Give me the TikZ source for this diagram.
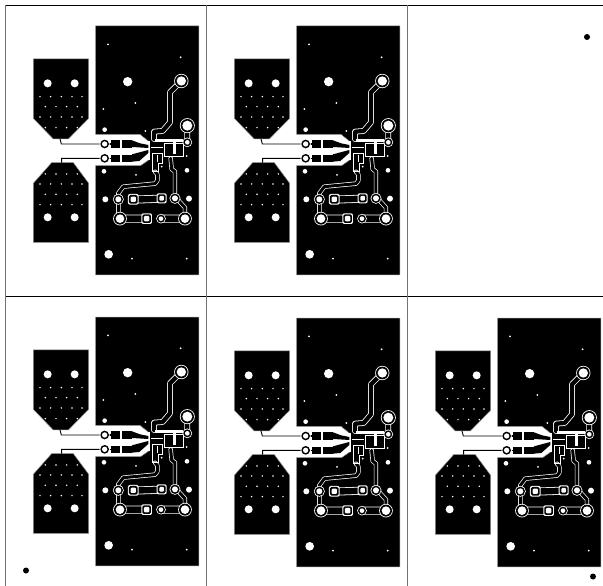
\documentclass[tikz,border=0pt]{standalone}
\tikzset{
 vgrid/.style={draw=black!55,line width=1pt},
 hgrid/.style={draw=black,line width=0.8pt},
 copper/.style={fill=black,draw=black!45,line width=0.5pt},
 halo/.style={draw=white,line join=round,line cap=round,line width=#1},
 core/.style={draw=black,line join=round,line cap=round,line width=#1},
}
\newcommand\rowA[1]{\foreach \x in {60,92,124,156,186}{\fill[white] (\x,#1) circle (2.5);}}
\newcommand\rowB[1]{\foreach \x in {76,108,140,172}{\fill[white] (\x,#1) circle (2.5);}}
% trace geometry, zoom units
\newcommand\wide{(484,198)--(450,232)--(450,322)--(428,348)--(402,350)--(402,372)
 (502,332)--(502,382)}
\newcommand\link{(340,554)--(425,551) (300,611)--(380,611) (423,611)--(495,611)}
\newcommand\narrow{(405,470)--(412,478)--(412,497)--(405,506)--(310,515)--(295,535)--(295,610)
 (452,430)--(455,462)--(465,470)--(465,545)--(495,578)--(495,610)}
\newcommand\thin{(120,372)--(124,387)--(240,387) (125,443)--(125,430)--(240,430)}
\newcommand\padring[3]{\fill[white] (#1,#2) circle (#3+2.5); \fill[black] (#1,#2) circle (#3); \fill[white] (#1,#2) circle (#3-5);}
\newcommand\padsq[3]{\fill[white,rounded corners=2pt] (#1-#3-3,#2-#3-3) rectangle (#1+#3+3,#2+#3+3);
 \fill[black,rounded corners=1.5pt] (#1-#3,#2-#3) rectangle (#1+#3,#2+#3);
 \fill[white,rounded corners=1pt] (#1-#3+5,#2-#3+5) rectangle (#1+#3-5,#2+#3-5);}
\newcommand\board[2]{\begin{scope}[shift={(20+#1,15+#2)},x=0.3333pt,y=-0.3333pt]
 % main copper
 \path[copper] (227,33)--(537,33)--(537,780)--(227,780)--(227,452)--(362,452)--(385,436)--(385,378)--(360,358)--(227,358)--cycle;
 % left planes
 \path[copper] (40,132)--(206,132)--(206,310)--(145,372)--(100,372)--(40,310)--cycle;
 \path[copper] (40,505)--(95,443)--(160,443)--(206,505)--(206,682)--(40,682)--cycle;
 \foreach \x in {83,164}{\fill[white] (\x,205) circle (12); \fill[white] (\x,607) circle (12);}
 \rowA{245}\rowB{275}\rowA{306}\rowB{338}
 \rowB{477}\rowA{507}\rowB{538}\rowA{569}
 % mounting holes and vias
 \fill[white] (323,200) circle (14) (266,718) circle (13);
 \fill[white] (254,344) circle (7) (252,469) circle (7) (256,553) circle (9) (507,551) circle (9) (501,466) circle (7);
 \foreach \p in {(264,88),(482,127),(346,264),(250,282),(376,348),(336,731),(500,731),(348,480),(425,455),(500,423),(452,328)}{\fill[white] \p circle (3);}
 % traces
 \draw[halo=5.8pt] \wide;
 \draw[core=4.2pt] \wide;
 \draw[halo=8pt] \link;
 \draw[core=6.4pt] \link;
 \draw[halo=4.4pt] \narrow;
 \draw[core=3pt] \narrow;
 \draw[black,line width=0.9pt] \thin;
 % centre land pattern
 \fill[white] (385,378) rectangle (389,436);
 \fill[white] (405,373) rectangle (488,381);
 \draw[white,line width=0.6pt] (432,386) rectangle (490,424);
 \fill[white] (458,373) rectangle (468,416);
 \fill[white] (392,395) rectangle (430,400);
 \draw[white,line width=0.6pt] (397,415) -- (426,415) -- (426,444) -- (414,444) -- (414,470) -- (397,470) -- cycle;
 \draw[white,line width=0.6pt] (412,420) -- (412,442);
 % feed lines
 \fill[black] (272,376) rectangle (300,398);
 \fill[black] (306,376) rectangle (336,398);
 \fill[black] (272,420) rectangle (300,441);
 \fill[black] (306,420) rectangle (336,441);
 \fill[black] (336,376)--(360,385)--(385,390)--(385,399)--(336,396)--cycle;
 \fill[black] (336,418)--(385,405)--(385,414)--(358,438)--(336,440)--cycle;
 \draw[black,line width=1.2pt] (254,387)--(272,387) (254,430)--(272,430);
 % pads
 \padring{484}{198}{19}
 \padring{502}{332}{20}
 \padring{502}{382}{12}
 \padring{254}{387}{13}
 \padring{254}{430}{13}
 \padring{295}{553}{14}
 \padring{300}{611}{18}
 \padring{465}{550}{14}
 \padring{495}{611}{18}
 \padring{423}{611}{12}
 \padsq{340}{553}{13}
 \padsq{425}{550}{12}
 \padsq{380}{611}{13}
\end{scope}}
\begin{document}
\begin{tikzpicture}[x=1pt,y=-1pt]
\useasboundingbox (0,0) rectangle (603,586);
\fill[white] (0,0) rectangle (603,586);
\board{0}{0}
\board{201}{0}
\board{0}{291}
\board{201}{292}
\board{402}{292}
\path[hgrid] (5.5,5.5)--(603,5.5);
\path[hgrid] (5.5,296)--(603,296);
\path[vgrid] (5.5,5.5)--(5.5,586);
\path[vgrid] (206.3,5.5)--(206.3,586);
\path[vgrid] (407,5.5)--(407,586);
\fill[white] (593,576) circle (6);
\fill[black] (587,37) circle (3) (26,570.5) circle (3) (593,576.5) circle (3);
\end{tikzpicture}
\end{document}
